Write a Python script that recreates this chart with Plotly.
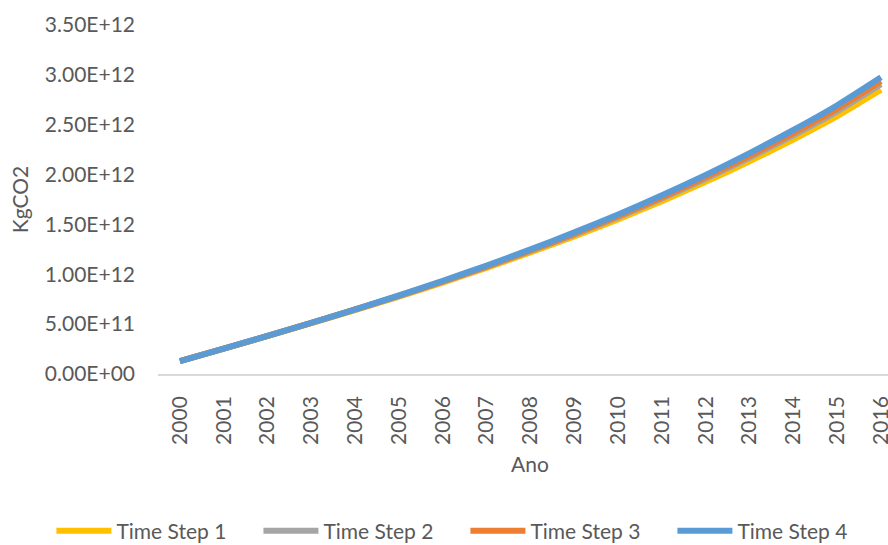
import plotly.graph_objects as go

years = [str(y) for y in range(2000, 2017)]

# values in units of 1e12 kgCO2
time_step_1 = [0.130, 0.254, 0.381, 0.510, 0.641, 0.777, 0.917, 1.064, 1.219, 1.380,
               1.551, 1.733, 1.927, 2.132, 2.351, 2.585, 2.850]
time_step_2 = [0.130, 0.255, 0.382, 0.512, 0.645, 0.782, 0.925, 1.075, 1.233, 1.398,
               1.573, 1.759, 1.958, 2.169, 2.393, 2.633, 2.905]
time_step_3 = [0.130, 0.255, 0.382, 0.513, 0.647, 0.785, 0.929, 1.080, 1.240, 1.407,
               1.584, 1.773, 1.975, 2.189, 2.416, 2.660, 2.935]
time_step_4 = [0.130, 0.255, 0.383, 0.514, 0.649, 0.789, 0.935, 1.088, 1.250, 1.420,
               1.600, 1.792, 1.997, 2.215, 2.447, 2.695, 2.975]

series_names = ["Time Step 1", "Time Step 2", "Time Step 3", "Time Step 4"]
series_colors = ["#FFC000", "#A5A5A5", "#ED7D31", "#5B9BD5"]

y_tick_values = [0.0, 0.5, 1.0, 1.5, 2.0, 2.5, 3.0, 3.5]
y_tick_labels = ["0.00E+00", "5.00E+11", "1.00E+12", "1.50E+12", "2.00E+12",
                 "2.50E+12", "3.00E+12", "3.50E+12"]

SCALE = 1e12
FONT = "Lato"
TXT = "#595959"
FS = 21

fig = go.Figure()
for name, vals, col in zip(series_names,
                           [time_step_1, time_step_2, time_step_3, time_step_4],
                           series_colors):
    fig.add_trace(go.Scatter(
        x=years, y=[v * SCALE for v in vals], name=name, mode="lines",
        line=dict(color=col, width=6, shape="spline", smoothing=0.6),
    ))

fig.update_layout(
    width=888, height=545,
    margin=dict(l=158, r=0, t=25, b=171, pad=0, autoexpand=False),
    paper_bgcolor="white", plot_bgcolor="white",
    font=dict(family=FONT, size=FS, color=TXT),
    showlegend=True,
    legend=dict(
        orientation="h", xref="paper", yref="paper",
        x=-0.146, xanchor="left", y=-(531 - 374) / 349, yanchor="middle",
        font=dict(family=FONT, size=FS, color=TXT),
        entrywidth=137, entrywidthmode="pixels", itemwidth=55,
        traceorder="normal",
    ),
    xaxis=dict(
        type="category", range=[-0.5, 16.16],
        showgrid=False, zeroline=False,
        showline=True, linecolor="#D9D9D9", linewidth=1.5,
        ticks="", tickangle=-90, ticklabelstandoff=12,
        tickfont=dict(family=FONT, size=FS, color=TXT),
    ),
    yaxis=dict(
        range=[0, 3.5 * SCALE],
        tickvals=[v * SCALE for v in y_tick_values], ticktext=y_tick_labels,
        showgrid=False, zeroline=False, showline=False, ticks="",
        ticklabelstandoff=22,
        tickfont=dict(family=FONT, size=FS, color=TXT),
        title=dict(text="KgCO2", font=dict(family=FONT, size=FS, color=TXT), standoff=10),
    ),
    annotations=[dict(
        text="Ano", xref="paper", yref="paper",
        x=(530 - 158) / 730, y=-(463 - 374) / 349,
        xanchor="center", yanchor="middle", showarrow=False,
        font=dict(family=FONT, size=FS, color=TXT),
    )],
)

fig.write_html("out.html")
